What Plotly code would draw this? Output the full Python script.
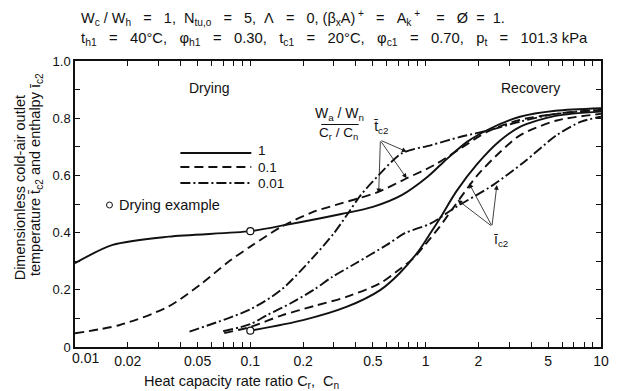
import math
import plotly.graph_objects as go

# ---------------- data ----------------
# ratio 1 (solid)
solid_t_x = [0.01, 0.0164, 0.0343, 0.1, 0.16, 0.33, 0.5, 0.73, 1.03, 1.27, 1.73, 2.34, 3.45, 5.5, 10]
solid_t_y = [0.293, 0.357, 0.386, 0.405, 0.427, 0.465, 0.49, 0.531, 0.596, 0.648, 0.718, 0.764, 0.805, 0.826, 0.835]
solid_i_x = [0.1, 0.2, 0.356, 0.55, 0.71, 0.92, 1.07, 1.22, 1.5, 1.97, 2.64, 3.45, 5.5, 10]
solid_i_y = [0.057, 0.094, 0.141, 0.199, 0.258, 0.339, 0.40, 0.455, 0.545, 0.64, 0.72, 0.77, 0.808, 0.823]
# ratio 0.1 (dashed)
dash_t_x = [0.01, 0.018, 0.034, 0.053, 0.075, 0.1, 0.15, 0.23, 0.308, 0.415, 0.54, 0.78, 1.12, 1.585, 2.25, 3.45, 5.9, 10]
dash_t_y = [0.048, 0.077, 0.141, 0.223, 0.298, 0.351, 0.42, 0.473, 0.497, 0.52, 0.543, 0.59, 0.636, 0.695, 0.753, 0.794, 0.817, 0.829]
dash_i_x = [0.071, 0.1, 0.15, 0.23, 0.356, 0.55, 0.68, 0.85, 1.0, 1.2, 1.45, 1.97, 2.64, 3.45, 5.6, 10]
dash_i_y = [0.049, 0.07, 0.11, 0.143, 0.176, 0.223, 0.263, 0.31, 0.36, 0.42, 0.49, 0.6, 0.68, 0.74, 0.792, 0.815]
# ratio 0.01 (dash-dot)
dd_t_x = [0.045, 0.1, 0.15, 0.23, 0.3, 0.366, 0.426, 0.54, 0.73, 1.077, 1.585, 2.34, 3.45, 5.5, 10]
dd_t_y = [0.054, 0.132, 0.2, 0.316, 0.398, 0.473, 0.531, 0.601, 0.677, 0.706, 0.735, 0.759, 0.788, 0.815, 0.829]
dd_i_x = [0.07, 0.1, 0.125, 0.17, 0.23, 0.295, 0.4, 0.6, 0.76, 1.07, 1.45, 2.42, 3.66, 5.6, 7.7, 10]
dd_i_y = [0.055, 0.08, 0.112, 0.153, 0.2, 0.246, 0.293, 0.357, 0.398, 0.432, 0.485, 0.566, 0.648, 0.741, 0.788, 0.805]
# drying example points
example_x = [0.1, 0.1]
example_y = [0.405, 0.057]

legend_labels = ["1", "0.1", "0.01"]
x_tick_vals = [0.01, 0.02, 0.03, 0.04, 0.05, 0.06, 0.07, 0.08, 0.09,
               0.1, 0.2, 0.3, 0.4, 0.5, 0.6, 0.7, 0.8, 0.9,
               1, 2, 3, 4, 5, 6, 7, 8, 9, 10]
x_labelled = {0.02: "0.02", 0.05: "0.05", 0.1: "0.1", 0.2: "0.2", 0.5: "0.5",
              1: "1", 2: "2", 5: "5", 10: "10"}
y_tick_vals = [0, 0.2, 0.4, 0.6, 0.8, 1.0]
y_tick_text = ["0", "0.2", "0.4", "0.6", "0.8", "1.0"]

# ---------------- layout geometry ----------------
# The page places the figure 8px from the window's top-left corner (body margin),
# so the figure is sized to end at the window edge.
OFF = 8
W, H = 617 - OFF, 391 - OFF
PLOT_L, PLOT_R, PLOT_T, PLOT_B = 75, 609, 61, 347   # in window pixels
L, T = PLOT_L - OFF, PLOT_T - OFF
R, B = W - (PLOT_R - OFF), H - (PLOT_B - OFF)
PW, PH = PLOT_R - PLOT_L, PLOT_B - PLOT_T
FONT = "Liberation Sans, Arial, Helvetica, sans-serif"
INK = "#111111"
S = "\u00a0"


def px(xp):
    return (xp - PLOT_L) / PW


def py(yp):
    return (PLOT_B - yp) / PH


def txt(x, y, text, size=14, xanchor="center", yanchor="middle", **kw):
    d = dict(xref="paper", yref="paper", x=px(x), y=py(y), showarrow=False,
             xanchor=xanchor, yanchor=yanchor,
             font=dict(size=size, color=INK, family=FONT), text=text)
    d.update(kw)
    return d


fig = go.Figure()

DASH = "9px,5px"
DASHDOT = "10px,3px,2px,3px"
curves = [
    (solid_t_x, solid_t_y, "solid"), (solid_i_x, solid_i_y, "solid"),
    (dash_t_x, dash_t_y, DASH), (dash_i_x, dash_i_y, DASH),
    (dd_t_x, dd_t_y, DASHDOT), (dd_i_x, dd_i_y, DASHDOT),
]
for xs, ys, d in curves:
    fig.add_trace(go.Scatter(x=xs, y=ys, mode="lines",
                             line=dict(color=INK, width=1.9, dash=d, shape="spline", smoothing=0.8),
                             showlegend=False, hoverinfo="skip"))

fig.add_trace(go.Scatter(x=example_x, y=example_y, mode="markers",
                         marker=dict(symbol="circle", size=7, color="white",
                                     line=dict(color=INK, width=1.2)),
                         showlegend=False, hoverinfo="skip"))

annotations = []
shapes = []

eq = S * 3 + "=" + S * 3
line1 = ("W<sub>c</sub>" + S + "/" + S + "W<sub>h</sub>" + eq + "1," + S * 2 +
         "N<sub>tu,o</sub>" + eq + "5," + S * 2 + "Λ" + eq + "0," + S +
         "(β<sub>x</sub>A)<sup>" + S + "+</sup>" + eq + "A<sub>k</sub><sup>" + S + "+</sup>" + S + eq + "Ø" + S * 2 + "=" + S * 2 + "1.")
line2 = ("t<sub>h1</sub>" + eq + "40°C," + S * 3 + "φ<sub>h1</sub>" + eq + "0.30," + S * 3 +
         "t<sub>c1</sub>" + eq + "20°C," + S * 3 + "φ<sub>c1</sub>" + eq + "0.70," + S * 3 +
         "p<sub>t</sub>" + eq + "101.3" + S + "kPa")
annotations.append(txt(79, 18, line1, size=14.5, xanchor="left"))
annotations.append(txt(79, 39, line2, size=14.8, xanchor="left"))

# y axis title (two rotated lines)
annotations.append(txt(19, 282, "Dimensionless cold-air outlet", size=14.5,
                       textangle=-90, yanchor="bottom"))
annotations.append(txt(35, 278, "temperature t\u0304<sub>c2</sub> and enthalpy \u012b<sub>c2</sub>", size=14.5,
                       textangle=-90, yanchor="bottom"))
# x axis title
annotations.append(txt(143, 382, "Heat capacity rate ratio C<sub>r</sub>," + S * 2 + "C<sub>n</sub>",
                       size=14.5, xanchor="left"))
# 0.01 tick label (shifted right as in original)
annotations.append(txt(86, 358, "0.01", size=14))

# region labels
annotations.append(txt(211, 88, "Drying"))
annotations.append(txt(537, 88, "Recovery"))

# legend title fraction
annotations.append(txt(344, 114, "W<sub>a</sub>" + S + "/" + S + "W<sub>n</sub>"))
annotations.append(txt(343, 133, "C<sub>r</sub>" + S + "/" + S + "C<sub>n</sub>", size=13.5))
shapes.append(dict(type="line", xref="paper", yref="paper", x0=px(325), x1=px(363), y0=py(124.5), y1=py(124.5),
                   line=dict(color=INK, width=1)))

# legend keys
for i, (lab, d) in enumerate(zip(legend_labels, ["solid", DASH, DASHDOT])):
    yy = [153, 167, 183][i]
    shapes.append(dict(type="line", xref="paper", yref="paper", x0=px(182), x1=px(254), y0=py(yy), y1=py(yy),
                       line=dict(color=INK, width=1.9, dash=d)))
    annotations.append(txt(259, [150, 167, 183][i], lab, size=13.5, xanchor="left"))

# drying example note
shapes.append(dict(type="circle", xref="paper", yref="paper", x0=px(107), x1=px(113), y0=py(202), y1=py(208),
                   line=dict(color=INK, width=1), fillcolor="white"))
annotations.append(txt(118, 205, "Drying example", size=14.5, xanchor="left"))

# pointer labels
annotations.append(txt(386, 127, "t\u0304<sub>c2</sub>"))
annotations.append(txt(507, 240, "\u012b<sub>c2</sub>"))

for (ox, oy), targets in [((385, 140), [(411.7, 151.7), (411.7, 178.3), (383.3, 193.3)]),
                          ((498.3, 226.7), [(475, 183.3), (503.3, 185), (463.3, 200)])]:
    for tx, ty in targets:
        annotations.append(dict(xref="paper", yref="paper", x=px(tx), y=py(ty), ax=ox - tx, ay=oy - ty,
                                showarrow=True, arrowhead=2, arrowsize=1.2, arrowwidth=0.8,
                                arrowcolor=INK, text=""))

fig.update_layout(
    width=W, height=H,
    margin=dict(l=L, r=R, t=T, b=B),
    paper_bgcolor="white", plot_bgcolor="white",
    font=dict(family=FONT, size=14, color=INK),
    annotations=annotations, shapes=shapes,
    showlegend=False,
)

fig.update_xaxes(
    type="log", range=[math.log10(0.01), math.log10(10)],
    tickmode="array", tickvals=x_tick_vals,
    ticktext=[x_labelled.get(v, "") for v in x_tick_vals],
    ticks="inside", ticklen=5, tickwidth=1, tickcolor=INK,
    showline=True, linecolor=INK, linewidth=1.5, mirror="ticks",
    showgrid=False, zeroline=False, tickfont=dict(size=14, color=INK),
)
fig.update_yaxes(
    range=[0, 1], tickmode="array", tickvals=y_tick_vals, ticktext=y_tick_text,
    ticks="inside", ticklen=5, tickwidth=1, tickcolor=INK,
    minor=dict(dtick=0.1, ticks="inside", ticklen=5, tickcolor=INK),
    showline=True, linecolor=INK, linewidth=1.5, mirror="ticks",
    showgrid=False, zeroline=False, tickfont=dict(size=13, color=INK),
)

fig.write_html("out.html")
